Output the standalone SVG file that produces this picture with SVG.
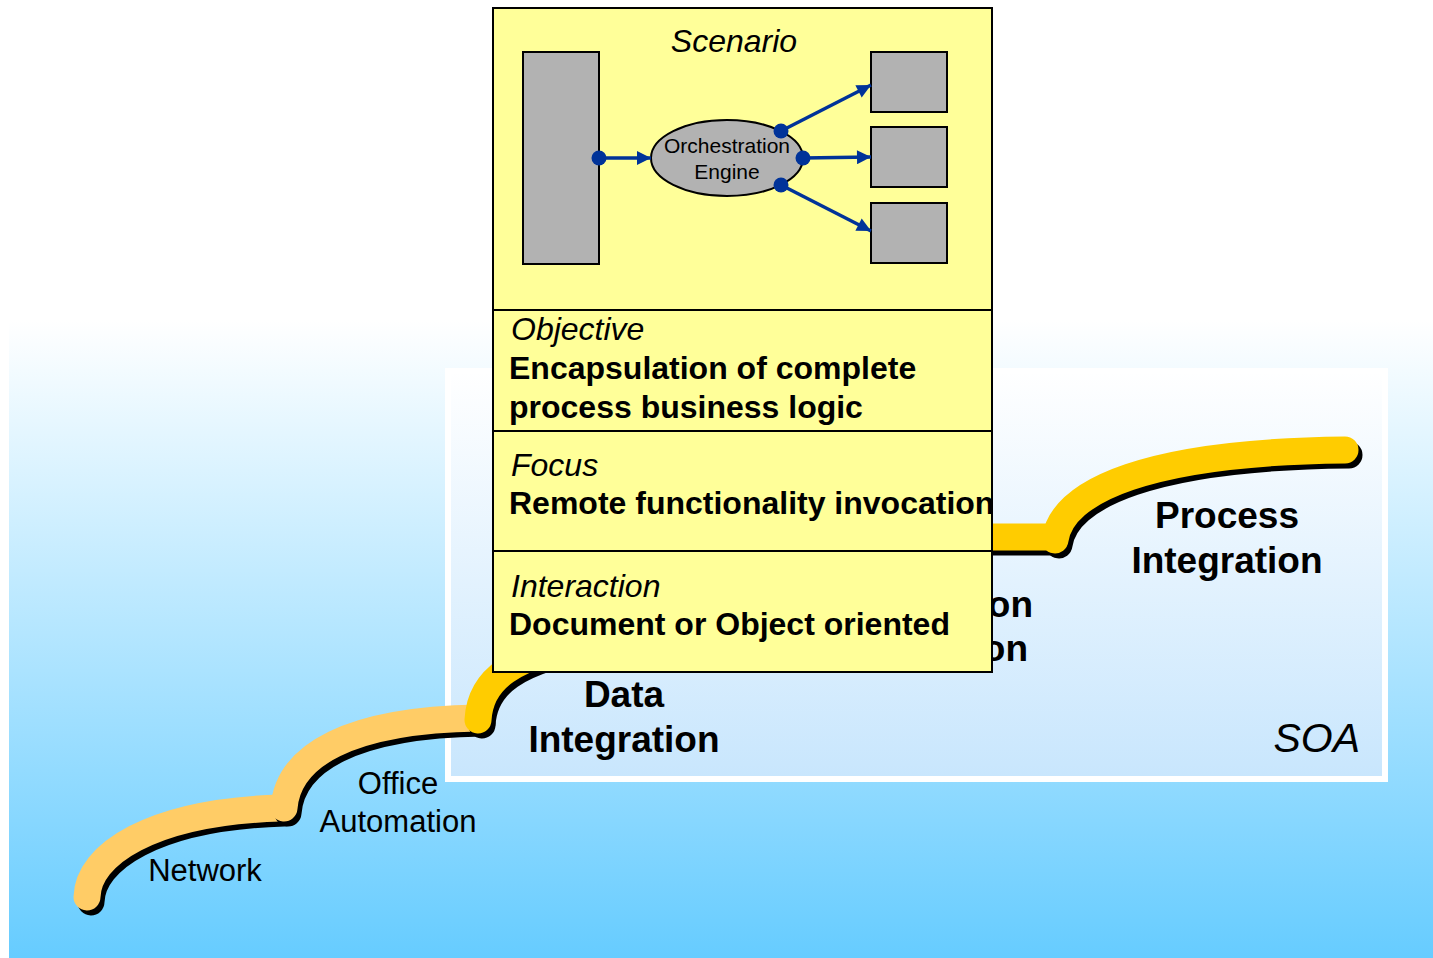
<svg xmlns="http://www.w3.org/2000/svg" width="1433" height="958" viewBox="0 0 1433 958">
<defs>
<linearGradient id="bg" x1="0" y1="0" x2="0" y2="1">
<stop offset="0" stop-color="#FFFFFF"/>
<stop offset="1" stop-color="#66CCFF"/>
</linearGradient>
<linearGradient id="soaFill" x1="0" y1="0" x2="0" y2="1">
<stop offset="0" stop-color="#FFFFFF"/>
<stop offset="1" stop-color="#C8E6FD"/>
</linearGradient>
<marker id="ah" viewBox="0 0 10 10" refX="10" refY="5" markerWidth="17" markerHeight="14" markerUnits="userSpaceOnUse" orient="auto">
<path d="M0,0 L10,5 L0,10 z" fill="#003399"/>
</marker>
<style>
text{font-family:"Liberation Sans",Arial,sans-serif;fill:#000}
.band{fill:none;stroke-width:27;stroke-linecap:round}
.shadow{fill:none;stroke:#000;stroke-width:27;stroke-linecap:round}
.lo{stroke:#FFCC66}
.hi{stroke:#FFCC00}
.step{font-size:31px}
.stepb{font-size:37px;font-weight:bold}
.it{font-size:32px;font-style:italic}
.bd{font-size:32px;font-weight:bold}
.gray{fill:#B2B2B2;stroke:#000;stroke-width:2}
.conn{stroke:#003399;stroke-width:3.5;fill:none;marker-end:url(#ah)}
.dot{fill:#003399}
.div{stroke:#000;stroke-width:2}
</style>
</defs>
<rect x="0" y="0" width="1433" height="958" fill="#FFFFFF"/>
<rect x="9" y="320" width="1424" height="638" fill="url(#bg)"/>
<g id="soa">
<rect x="448" y="371" width="937" height="408" fill="url(#soaFill)" stroke="#FFFFFF" stroke-width="6"/>
<text x="1360" y="752" text-anchor="end" font-size="41" font-style="italic">SOA</text>
</g>
<g id="stairs">
<g id="network">
<path class="shadow" transform="translate(4,5)" d="M87,897 C88,855 150,812 280,808"/>
<path class="band lo" d="M87,897 C88,855 150,812 280,808"/>
</g>
<g id="office">
<path class="shadow" transform="translate(4,5)" d="M284,808 C288,755 350,720 478,718"/>
<path class="band lo" d="M284,808 C288,755 350,720 478,718"/>
</g>
<g id="data">
<path class="shadow" transform="translate(4,5)" d="M478,720 C480,680 510,655 600,640"/>
<path class="band hi" d="M478,720 C480,680 510,655 600,640"/>
</g>
<g id="application">
<path class="shadow" transform="translate(4,5)" d="M900,537 L1052,537"/>
<path class="band hi" d="M900,537 L1052,537"/>
</g>
<g id="process">
<path class="shadow" transform="translate(4,5)" d="M1055,540 C1062,490 1150,452 1345,450"/>
<path class="band hi" d="M1055,540 C1062,490 1150,452 1345,450"/>
</g>
</g>
<g id="labels">
<text class="step" x="205" y="881" text-anchor="middle">Network</text>
<text class="step" x="398" y="794" text-anchor="middle">Office</text>
<text class="step" x="398" y="832" text-anchor="middle">Automation</text>
<text class="stepb" x="624" y="707" text-anchor="middle">Data</text>
<text class="stepb" x="624" y="752" text-anchor="middle">Integration</text>
<text class="stepb" x="1033" y="617" text-anchor="end">on</text>
<text class="stepb" x="1028" y="661" text-anchor="end">on</text>
<text class="stepb" x="1227" y="528" text-anchor="middle">Process</text>
<text class="stepb" x="1227" y="573" text-anchor="middle">Integration</text>
</g>
<g id="infobox">
<rect x="493" y="8" width="499" height="664" fill="#FFFF99" stroke="#000" stroke-width="2"/>
<line class="div" x1="493" y1="310" x2="992" y2="310"/>
<line class="div" x1="493" y1="431" x2="992" y2="431"/>
<line class="div" x1="493" y1="551" x2="992" y2="551"/>
<text class="it" x="734" y="52" text-anchor="middle">Scenario</text>
<text class="it" x="511" y="340">Objective</text>
<text class="bd" x="509" y="379">Encapsulation of complete</text>
<text class="bd" x="509" y="418">process business logic</text>
<text class="it" x="511" y="476">Focus</text>
<text class="bd" x="509" y="514">Remote functionality invocation</text>
<text class="it" x="511" y="597">Interaction</text>
<text class="bd" x="509" y="635">Document or Object oriented</text>
</g>
<g id="client"><rect class="gray" x="523" y="52" width="76" height="212"/></g>
<g id="engine">
<ellipse class="gray" cx="727" cy="158" rx="76" ry="38"/>
<text x="727" y="153" text-anchor="middle" font-size="21">Orchestration</text>
<text x="727" y="179" text-anchor="middle" font-size="21">Engine</text>
</g>
<g id="service1"><rect class="gray" x="871" y="52" width="76" height="60"/></g>
<g id="service2"><rect class="gray" x="871" y="127" width="76" height="60"/></g>
<g id="service3"><rect class="gray" x="871" y="203" width="76" height="60"/></g>
<g id="connectors">
<line class="conn" x1="599" y1="158" x2="651" y2="158"/>
<line class="conn" x1="781" y1="131" x2="871" y2="85"/>
<line class="conn" x1="803" y1="158" x2="871" y2="157"/>
<line class="conn" x1="781" y1="185" x2="871" y2="231"/>
<circle class="dot" cx="599" cy="158" r="7.5"/>
<circle class="dot" cx="781" cy="131" r="7.5"/>
<circle class="dot" cx="803" cy="158" r="7.5"/>
<circle class="dot" cx="781" cy="185" r="7.5"/>
</g>
</svg>
